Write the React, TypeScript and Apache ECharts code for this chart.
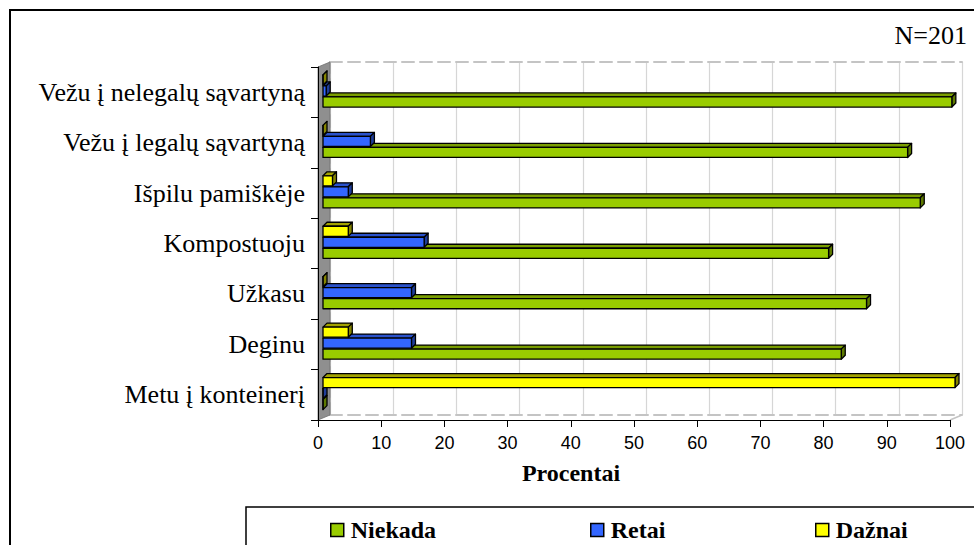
import React, { useEffect, useRef } from "react";
import * as echarts from "echarts";

const categories = [
  "Vežu į nelegalų sąvartyną",
  "Vežu į legalų sąvartyną",
  "Išpilu pamiškėje",
  "Kompostuoju",
  "Užkasu",
  "Deginu",
  "Metu į konteinerį",
];
const niekada = [99.5, 92.5, 94.5, 80, 86, 82, 0];
const retai = [0.5, 7.5, 4, 16, 14, 14, 0];
const daznai = [0, 0, 1.5, 4, 0, 4, 100];

const seriesNames = ["Niekada", "Retai", "Dažnai"];
const xTicks = { min: 0, max: 100, interval: 10 };

const palette = [
  { front: "#99CC00", top: "#7A9E00", side: "#5E7A00" },
  { front: "#3366FF", top: "#2A52CC", side: "#1F3D99" },
  { front: "#FFFF00", top: "#A3A300", side: "#858500" },
];
// slot position of each series inside a category band (top -> bottom: Dažnai, Retai, Niekada)
const slotOf = [1, 0, -1];

const SERIF = "'Liberation Serif', 'Times New Roman', serif";
const SANS = "'Liberation Sans', Arial, sans-serif";

function makeRender(seriesIdx: number) {
  const col = palette[seriesIdx];
  return (params: any, api: any) => {
    const v = api.value(0);
    const cat = api.value(1);
    const p0 = api.coord([0, cat]);
    const p1 = api.coord([v, cat]);
    const band = api.size([0, 1])[1];
    const slot = band * 0.218;
    const h = band * 0.2;
    const cy = p0[1] - band * 0.024 + slotOf[seriesIdx] * slot;
    const x0 = p0[0];
    const x1 = Math.max(p1[0], x0);
    const y0 = cy - h / 2;
    const y1 = cy + h / 2;
    const dx = 4;
    const dy = 4;
    const stroke = { stroke: "#000", lineWidth: 1.3, lineJoin: "round" };
    return {
      type: "group",
      children: [
        {
          type: "polygon",
          shape: { points: [[x0, y0], [x0 + dx, y0 - dy], [x1 + dx, y0 - dy], [x1, y0]] },
          style: { fill: col.top, ...stroke },
        },
        {
          type: "polygon",
          shape: { points: [[x1, y0], [x1 + dx, y0 - dy], [x1 + dx, y1 - dy], [x1, y1]] },
          style: { fill: col.side, ...stroke },
        },
        {
          type: "rect",
          shape: { x: x0, y: y0, width: x1 - x0, height: h },
          style: { fill: col.front, ...stroke },
        },
      ],
    };
  };
}

const seriesData = [niekada, retai, daznai];

export default function App() {
  const ref = useRef<HTMLDivElement>(null);
  useEffect(() => {
    const chart = echarts.init(ref.current!, null, { renderer: "svg" });
    const option: any = {
      animation: false,
      backgroundColor: "#fff",
      grid: [
        { left: 318, right: 24, top: 67, bottom: 125 },
        { left: 323, right: 19, top: 67, bottom: 125 },
        { left: 330, right: 12, top: 62, bottom: 130 },
      ],
      xAxis: [
        {
          gridIndex: 0,
          type: "value",
          ...xTicks,
          axisLine: { show: true, lineStyle: { color: "#000", width: 1 } },
          axisTick: { show: true, length: 7, lineStyle: { color: "#000" } },
          axisLabel: { fontFamily: SANS, fontSize: 18, color: "#000", margin: 14 },
          splitLine: { show: false },
          z: 5,
        },
        {
          gridIndex: 1,
          type: "value",
          ...xTicks,
          show: false,
        },
        {
          gridIndex: 2,
          type: "value",
          position: "top",
          ...xTicks,
          axisLine: { show: true, lineStyle: { color: "#c4c4c4", width: 2, type: [12, 6] } },
          axisTick: { show: false },
          axisLabel: { show: false },
          splitLine: { show: true, lineStyle: { color: "#d6d6d6", width: 1.2 } },
          z: 0,
        },
        {
          gridIndex: 2,
          type: "value",
          position: "bottom",
          ...xTicks,
          axisLine: { show: true, lineStyle: { color: "#c4c4c4", width: 2, type: [12, 6] } },
          axisTick: { show: false },
          axisLabel: { show: false },
          splitLine: { show: false },
          z: 0,
        },
      ],
      yAxis: [
        {
          gridIndex: 0,
          type: "category",
          inverse: true,
          data: categories,
          axisLine: { show: true, lineStyle: { color: "#000", width: 1 } },
          axisTick: { show: true, length: 7, lineStyle: { color: "#000" } },
          axisLabel: { fontFamily: SERIF, fontSize: 26, color: "#000", margin: 13 },
          z: 5,
        },
        {
          gridIndex: 1,
          type: "category",
          inverse: true,
          data: categories,
          show: false,
        },
        {
          gridIndex: 2,
          type: "category",
          position: "right",
          data: categories,
          axisLine: { show: true, lineStyle: { color: "#c4c4c4", width: 2, type: [12, 6] } },
          axisTick: { show: false },
          axisLabel: { show: false },
          splitLine: { show: false },
          z: 0,
        },
      ],
      legend: [0, 1, 2].map((i) => ({
        data: [seriesNames[i]],
        left: [325, 585, 810][i],
        top: 513,
        icon: "rect",
        itemWidth: 13,
        itemHeight: 13,
        itemGap: 6,
        itemStyle: { borderColor: "#000", borderWidth: 1.5 },
        textStyle: { fontFamily: SERIF, fontWeight: "bold", fontSize: 24, color: "#000", padding: [0, 0, 0, 2] },
      })),
      series: seriesData.map((d, i) => ({
        type: "custom",
        name: seriesNames[i],
        xAxisIndex: 1,
        yAxisIndex: 1,
        itemStyle: { color: palette[i].front },
        renderItem: makeRender(i),
        encode: { x: 0, y: 1 },
        data: d.map((v, k) => [v, k]),
        z: 10 + i,
      })),
      graphic: [
        {
          type: "polygon",
          shape: { points: [[318, 67], [330, 62], [330, 415], [318, 420]] },
          style: { fill: "#8f8f8f", stroke: "#6f6f6f", lineWidth: 0.8 },
          z: 1,
        },
        {
          type: "line",
          shape: { x1: 950, y1: 420, x2: 962, y2: 415 },
          style: { stroke: "#c4c4c4", lineWidth: 1.5 },
          z: 1,
        },
        {
          type: "text",
          style: {
            text: "Procentai",
            x: 571,
            y: 473,
            align: "center",
            verticalAlign: "middle",
            font: `bold 24px ${SERIF}`,
            fill: "#000",
          },
          z: 5,
        },
        {
          type: "text",
          style: {
            text: "N=201",
            x: 967,
            y: 35,
            align: "right",
            verticalAlign: "middle",
            font: `26px ${SERIF}`,
            fill: "#000",
          },
          z: 5,
        },
        {
          type: "rect",
          shape: { x: 246, y: 507, width: 800, height: 100 },
          style: { fill: "none", stroke: "#000", lineWidth: 1.5 },
          z: 1,
        },
        {
          type: "rect",
          shape: { x: 10, y: 10, width: 1000, height: 600 },
          style: { fill: "none", stroke: "#000", lineWidth: 2 },
          z: 1,
        },
      ],
    };
    chart.setOption(option);
    return () => chart.dispose();
  }, []);
  return (
    <div
      ref={ref}
      style={{ position: "fixed", left: 0, top: 0, width: 974, height: 545 }}
    />
  );
}
